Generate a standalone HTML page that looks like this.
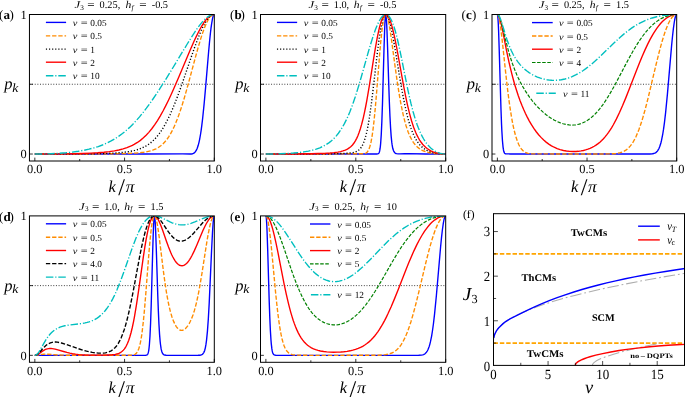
<!DOCTYPE html>
<html><head><meta charset="utf-8"><title>figure</title>
<style>html,body{margin:0;padding:0;background:#fff;overflow:hidden}svg{display:block;will-change:transform}text{font-family:"Liberation Serif",serif;fill:#000;text-rendering:geometricPrecision}</style></head><body>
<svg width="685" height="397" viewBox="0 0 685 397">
<rect width="685" height="397" fill="#fff"/>
<clipPath id="cpa"><rect x="29.45" y="14.5" width="184.85" height="146.50"/></clipPath>
<g clip-path="url(#cpa)" fill="none" stroke-width="1.38">
<path d="M29.45 84.26H214.3" stroke="#222" stroke-width="0.9" stroke-dasharray="0.95 1.7"/>
<path d="M34.83 154.02L145.80 154.01L182.59 153.88L190.07 154.00L191.27 153.94L192.46 153.74L193.36 153.42L194.26 152.88L194.86 152.35L195.46 151.65L196.35 150.23L197.25 148.24L198.15 145.57L199.05 142.09L199.64 139.28L200.54 134.25L201.14 130.32L201.74 125.93L202.63 118.48L204.13 103.90L205.63 87.16L208.62 51.70L209.51 41.95L210.41 33.23L211.01 28.16L211.61 23.79L212.51 18.70L213.10 16.38L213.40 15.56L213.70 14.97L214.00 14.62L214.30 14.50" stroke="#0000ff" stroke-width="1.38"/>
<path d="M34.83 154.02L79.40 153.99L104.53 153.88L122.77 153.60L128.75 153.41L135.04 153.09L139.52 152.74L143.71 152.25L147.30 151.64L150.59 150.85L153.28 149.97L155.97 148.82L158.37 147.49L160.76 145.81L162.85 144.01L164.95 141.82L167.04 139.22L168.84 136.62L170.63 133.64L172.42 130.28L174.22 126.52L176.01 122.34L177.81 117.75L179.90 111.89L182.00 105.53L184.09 98.70L187.98 85.03L195.16 58.25L197.85 48.50L200.54 39.38L202.04 34.72L203.23 31.24L204.73 27.25L206.22 23.73L207.72 20.71L208.92 18.69L209.81 17.43L210.41 16.71L211.61 15.56L212.21 15.14L213.10 14.71L213.70 14.55L214.30 14.50" stroke="#ff8c00" stroke-width="1.38" stroke-dasharray="4.33 1.87"/>
<path d="M34.83 154.02L71.33 153.95L95.25 153.69L104.23 153.48L110.21 153.25L116.49 152.90L121.58 152.50L126.06 152.00L130.55 151.31L134.74 150.42L138.33 149.39L141.62 148.18L144.61 146.78L146.10 145.96L147.60 145.04L150.29 143.13L152.68 141.10L154.78 139.06L157.17 136.37L159.26 133.70L161.36 130.70L163.45 127.37L165.55 123.69L167.64 119.68L170.03 114.68L172.42 109.25L174.82 103.44L177.51 96.48L179.60 90.80L182.30 83.22L191.57 56.09L194.56 47.57L198.15 37.97L199.64 34.25L201.14 30.76L202.93 26.91L204.73 23.47L206.52 20.53L208.02 18.48L208.92 17.44L209.81 16.55L210.71 15.82L211.31 15.42L212.21 14.95L212.80 14.73L213.70 14.54L214.30 14.50" stroke="#000000" stroke-width="1.38" stroke-dasharray="1.17 1.93"/>
<path d="M34.83 154.02L62.35 153.89L74.32 153.71L82.99 153.49L91.07 153.18L97.65 152.80L103.93 152.29L109.31 151.69L114.40 150.92L118.88 150.03L123.07 148.95L126.96 147.68L130.55 146.23L132.34 145.38L134.14 144.44L137.43 142.46L140.42 140.33L143.41 137.84L146.10 135.27L148.79 132.37L151.79 128.73L154.78 124.63L157.47 120.55L160.16 116.11L163.15 110.76L165.55 106.18L168.24 100.74L170.93 95.02L173.62 89.07L178.71 77.34L189.77 51.04L194.26 40.84L196.35 36.35L198.15 32.69L199.94 29.25L201.74 26.06L203.53 23.18L205.03 21.04L206.82 18.82L208.32 17.30L209.81 16.09L211.31 15.21L212.80 14.68L213.40 14.56L214.30 14.50" stroke="#ff0000" stroke-width="1.38"/>
<path d="M34.83 154.02L43.51 153.94L50.99 153.71L58.76 153.31L65.94 152.76L72.22 152.10L78.20 151.28L83.89 150.29L88.97 149.19L93.76 147.94L98.25 146.54L102.43 144.99L106.92 143.06L111.11 140.95L115.00 138.71L118.58 136.37L122.47 133.52L125.76 130.84L129.35 127.63L132.64 124.41L135.93 120.94L139.52 116.85L142.81 112.84L146.40 108.19L149.99 103.29L152.98 99.02L156.27 94.16L160.16 88.22L164.05 82.11L171.83 69.51L187.08 44.26L191.87 36.58L196.05 30.22L198.15 27.25L199.94 24.86L201.74 22.63L203.83 20.30L205.63 18.56L207.42 17.10L209.22 15.94L211.01 15.11L212.51 14.68L213.40 14.55L214.30 14.50" stroke="#00bfbf" stroke-width="1.38" stroke-dasharray="7.49 1.87 1.17 1.87"/>
</g>
<rect x="29.45" y="14.5" width="184.85" height="146.50" fill="none" stroke="#000" stroke-width="1.0"/>
<path d="M34.83 161.0v-3.4M124.57 161.0v-3.4M214.30 161.0v-3.4M79.70 161.0v-2.0M169.43 161.0v-2.0M29.45 154.02h3.4M29.45 84.26h3.4" stroke="#000" stroke-width="0.8" fill="none"/>
<text x="34.83" y="173.20" font-size="12.4" text-anchor="middle">0.0</text>
<text x="124.57" y="173.20" font-size="12.4" text-anchor="middle">0.5</text>
<text x="214.30" y="173.20" font-size="12.4" text-anchor="middle">1.0</text>
<text x="26.65" y="158.42" font-size="12.4" text-anchor="end">0</text>
<text x="26.65" y="18.90" font-size="12.4" text-anchor="end">1</text>
<text x="4.15" y="89.26" font-size="16.5" font-style="italic">p</text>
<text x="12.15" y="91.76" font-size="12.6" font-style="italic" textLength="6.0" lengthAdjust="spacingAndGlyphs">k</text>
<text x="108.47" y="192.00" font-size="16.5" font-style="italic" textLength="7.3" lengthAdjust="spacingAndGlyphs">k</text>
<text x="118.37" y="195.40" font-size="24">/</text>
<text x="125.67" y="192.00" font-size="16.5" font-style="italic" textLength="8.8" lengthAdjust="spacingAndGlyphs">π</text>
<text x="74.42" y="8.20" font-size="10.3" font-style="italic" textLength="5.6" lengthAdjust="spacingAndGlyphs">J</text>
<text x="80.22" y="9.90" font-size="7.21">3</text>
<text x="87.33" y="8.20" font-size="10.3" textLength="7.4" lengthAdjust="spacingAndGlyphs">=</text>
<text x="99.62" y="8.20" font-size="10.3">0.25,</text>
<text x="125.42" y="8.20" font-size="10.3" font-style="italic" textLength="5.8" lengthAdjust="spacingAndGlyphs">h</text>
<text x="131.43" y="9.90" font-size="7.21" font-style="italic">f</text>
<text x="139.22" y="8.20" font-size="10.3" textLength="7.4" lengthAdjust="spacingAndGlyphs">=</text>
<text x="151.72" y="8.20" font-size="10.3">-0.5</text>
<text x="-1.05" y="19.10" font-size="13.0">(</text>
<text x="3.45" y="19.10" font-size="13.0" font-weight="bold">a</text>
<text x="9.45" y="19.10" font-size="13.0">)</text>
<path d="M45.90 22.40H66.10" stroke="#0000ff" stroke-width="1.38" fill="none"/>
<text x="72.80" y="25.90" font-size="9.3" font-style="italic" textLength="4.6" lengthAdjust="spacingAndGlyphs">v</text>
<text x="80.70" y="25.90" font-size="9.3" textLength="6.9" lengthAdjust="spacingAndGlyphs">=</text>
<text x="90.30" y="25.90" font-size="9.3">0.05</text>
<path d="M45.90 35.90H66.10" stroke="#ff8c00" stroke-width="1.38" fill="none" stroke-dasharray="4.33 1.87"/>
<text x="72.80" y="39.40" font-size="9.3" font-style="italic" textLength="4.6" lengthAdjust="spacingAndGlyphs">v</text>
<text x="80.70" y="39.40" font-size="9.3" textLength="6.9" lengthAdjust="spacingAndGlyphs">=</text>
<text x="90.30" y="39.40" font-size="9.3">0.5</text>
<path d="M45.90 49.10H66.10" stroke="#000000" stroke-width="1.38" fill="none" stroke-dasharray="1.17 1.93"/>
<text x="72.80" y="52.60" font-size="9.3" font-style="italic" textLength="4.6" lengthAdjust="spacingAndGlyphs">v</text>
<text x="80.70" y="52.60" font-size="9.3" textLength="6.9" lengthAdjust="spacingAndGlyphs">=</text>
<text x="90.30" y="52.60" font-size="9.3">1</text>
<path d="M45.90 62.20H66.10" stroke="#ff0000" stroke-width="1.38" fill="none"/>
<text x="72.80" y="65.70" font-size="9.3" font-style="italic" textLength="4.6" lengthAdjust="spacingAndGlyphs">v</text>
<text x="80.70" y="65.70" font-size="9.3" textLength="6.9" lengthAdjust="spacingAndGlyphs">=</text>
<text x="90.30" y="65.70" font-size="9.3">2</text>
<path d="M45.90 75.70H66.10" stroke="#00bfbf" stroke-width="1.38" fill="none" stroke-dasharray="7.49 1.87 1.17 1.87"/>
<text x="72.80" y="79.20" font-size="9.3" font-style="italic" textLength="4.6" lengthAdjust="spacingAndGlyphs">v</text>
<text x="80.70" y="79.20" font-size="9.3" textLength="6.9" lengthAdjust="spacingAndGlyphs">=</text>
<text x="90.30" y="79.20" font-size="9.3">10</text>
<clipPath id="cpb"><rect x="260.5" y="14.5" width="185.20" height="146.50"/></clipPath>
<g clip-path="url(#cpb)" fill="none" stroke-width="1.38">
<path d="M260.5 84.26H445.7" stroke="#222" stroke-width="0.9" stroke-dasharray="0.95 1.7"/>
<path d="M265.89 154.02L375.28 154.02L376.77 153.98L377.67 153.89L378.27 153.69L378.57 153.48L378.87 153.14L379.17 152.58L379.47 151.72L379.77 150.48L380.07 148.73L380.37 146.36L380.67 143.24L381.27 134.33L381.87 121.28L382.47 103.98L383.97 50.21L384.57 31.44L384.87 24.22L385.17 18.87L385.47 15.60L385.76 14.50L386.06 15.58L386.36 18.71L386.66 23.71L386.96 30.29L387.56 46.93L388.76 84.87L389.36 102.00L389.96 116.36L390.56 127.66L391.16 136.10L391.76 142.13L392.06 144.40L392.66 147.80L392.96 149.04L393.56 150.84L393.86 151.48L394.46 152.40L394.76 152.73L395.35 153.19L395.95 153.49L396.55 153.67L398.05 153.87L399.85 153.88L404.64 153.71L407.94 153.68L425.92 153.96L445.70 154.02" stroke="#0000ff" stroke-width="1.38"/>
<path d="M265.89 154.02L324.93 153.98L355.50 153.77L362.09 153.79L363.89 153.68L364.79 153.50L365.39 153.30L365.99 153.01L366.59 152.61L367.48 151.70L368.38 150.32L368.98 149.05L369.88 146.52L370.48 144.33L371.08 141.68L371.68 138.54L372.28 134.86L372.88 130.63L374.08 120.46L375.28 108.15L376.47 94.10L379.77 52.77L380.67 42.67L381.57 33.80L382.17 28.70L382.77 24.34L383.67 19.28L384.27 16.91L384.57 16.03L384.87 15.36L385.17 14.88L385.47 14.59L385.76 14.50L386.06 14.59L386.36 14.86L386.66 15.31L386.96 15.92L387.56 17.60L388.46 21.18L389.66 27.54L390.56 33.22L391.46 39.44L395.35 68.41L397.45 83.14L399.55 96.29L401.35 106.12L403.15 114.62L404.04 118.38L405.24 122.94L406.14 126.01L407.34 129.70L408.24 132.17L409.44 135.11L410.64 137.69L412.14 140.45L413.33 142.33L414.83 144.33L416.33 146.01L418.13 147.65L419.93 148.98L421.73 150.04L423.82 151.02L426.22 151.87L428.62 152.51L431.32 153.04L434.31 153.46L437.91 153.78L441.80 153.97L445.70 154.02" stroke="#ff8c00" stroke-width="1.38" stroke-dasharray="4.33 1.87"/>
<path d="M265.89 154.02L301.56 153.98L322.83 153.86L336.62 153.64L345.91 153.28L349.50 153.01L351.60 152.76L353.40 152.45L355.20 151.98L356.70 151.39L357.89 150.73L359.09 149.84L360.29 148.62L361.49 147.00L362.39 145.44L363.29 143.54L364.19 141.23L365.09 138.47L365.99 135.21L366.89 131.40L367.78 127.01L368.68 122.03L369.58 116.44L371.38 103.59L373.18 88.91L377.37 52.49L378.87 40.81L380.07 32.67L380.97 27.44L381.57 24.41L382.47 20.60L383.07 18.57L383.67 16.95L384.27 15.74L384.87 14.94L385.17 14.70L385.47 14.55L385.76 14.50L386.06 14.55L386.36 14.69L386.96 15.25L387.56 16.17L388.16 17.43L388.76 19.00L389.36 20.87L389.96 23.00L390.86 26.67L392.06 32.29L393.56 40.24L395.35 50.71L399.25 74.53L401.05 85.14L402.85 95.09L404.64 104.18L406.74 113.53L407.64 117.11L408.84 121.50L409.74 124.50L410.94 128.14L411.84 130.60L413.04 133.57L414.23 136.20L415.73 139.05L416.93 141.03L418.43 143.16L419.93 144.98L421.43 146.51L423.22 148.05L425.02 149.31L426.82 150.33L428.92 151.30L431.02 152.06L433.71 152.80L436.41 153.32L439.11 153.68L442.10 153.93L445.70 154.02" stroke="#000000" stroke-width="1.38" stroke-dasharray="1.17 1.93"/>
<path d="M265.89 154.02L292.87 153.95L311.44 153.73L318.04 153.56L324.33 153.32L330.02 152.97L333.92 152.61L337.82 152.09L340.51 151.57L342.91 150.95L345.31 150.10L347.41 149.09L349.20 147.95L351.00 146.48L352.50 144.93L354.00 143.00L355.50 140.62L356.70 138.34L357.89 135.68L359.09 132.58L360.29 129.01L361.49 124.93L362.39 121.54L363.29 117.83L364.49 112.43L365.69 106.50L366.89 100.09L369.28 86.04L373.48 59.63L375.28 48.71L377.07 38.71L378.57 31.39L379.47 27.54L380.37 24.14L381.27 21.22L382.17 18.81L383.07 16.93L383.97 15.58L384.27 15.25L384.87 14.77L385.17 14.62L385.76 14.50L386.06 14.53L386.66 14.77L387.26 15.23L388.16 16.36L389.06 17.98L389.96 20.08L390.86 22.62L391.76 25.57L392.66 28.92L394.46 36.63L396.25 45.45L398.05 55.04L403.75 86.60L405.54 95.82L407.34 104.30L409.44 113.12L411.54 120.72L412.44 123.61L413.63 127.15L414.53 129.57L415.73 132.51L416.93 135.13L418.43 138.03L419.63 140.06L421.13 142.28L422.62 144.20L424.12 145.86L425.62 147.28L427.42 148.71L429.22 149.91L431.32 151.04L433.11 151.82L435.51 152.64L437.91 153.24L440.31 153.66L443.00 153.93L445.70 154.02" stroke="#ff0000" stroke-width="1.38"/>
<path d="M265.89 154.02L273.39 153.96L280.58 153.78L287.77 153.46L293.46 153.06L298.86 152.54L303.65 151.91L308.45 151.08L312.64 150.12L316.24 149.08L319.84 147.78L323.13 146.29L326.13 144.64L328.83 142.85L331.52 140.71L333.92 138.48L336.32 135.87L338.42 133.25L340.51 130.27L342.61 126.89L344.41 123.66L346.51 119.47L348.31 115.51L350.10 111.18L351.90 106.50L353.40 102.33L355.20 97.02L358.49 86.49L361.49 76.23L368.38 51.78L371.38 41.69L374.08 33.43L375.28 30.09L376.47 27.00L377.67 24.18L378.87 21.67L380.07 19.49L381.27 17.67L382.47 16.24L383.07 15.67L383.67 15.22L384.27 14.87L384.87 14.63L385.76 14.50L386.36 14.56L386.96 14.74L387.56 15.06L388.16 15.49L388.76 16.06L389.36 16.76L390.56 18.57L391.76 20.93L392.66 23.06L393.86 26.37L395.05 30.21L395.95 33.42L397.15 38.11L399.25 47.28L401.35 57.37L407.04 85.89L409.14 95.66L410.94 103.38L413.04 111.53L415.13 118.71L417.23 124.95L418.43 128.11L419.63 131.01L420.83 133.66L422.33 136.63L423.52 138.77L425.02 141.17L426.52 143.28L428.02 145.13L429.52 146.76L431.02 148.18L432.51 149.41L434.31 150.66L436.11 151.68L437.91 152.50L439.71 153.13L441.80 153.65L443.60 153.92L445.70 154.02" stroke="#00bfbf" stroke-width="1.38" stroke-dasharray="7.49 1.87 1.17 1.87"/>
</g>
<rect x="260.5" y="14.5" width="185.20" height="146.50" fill="none" stroke="#000" stroke-width="1.0"/>
<path d="M265.89 161.0v-3.4M355.80 161.0v-3.4M445.70 161.0v-3.4M310.85 161.0v-2.0M400.75 161.0v-2.0M260.5 154.02h3.4M260.5 84.26h3.4" stroke="#000" stroke-width="0.8" fill="none"/>
<text x="265.89" y="173.20" font-size="12.4" text-anchor="middle">0.0</text>
<text x="355.80" y="173.20" font-size="12.4" text-anchor="middle">0.5</text>
<text x="445.70" y="173.20" font-size="12.4" text-anchor="middle">1.0</text>
<text x="257.70" y="158.42" font-size="12.4" text-anchor="end">0</text>
<text x="257.70" y="18.90" font-size="12.4" text-anchor="end">1</text>
<text x="235.20" y="89.26" font-size="16.5" font-style="italic">p</text>
<text x="243.20" y="91.76" font-size="12.6" font-style="italic" textLength="6.0" lengthAdjust="spacingAndGlyphs">k</text>
<text x="339.70" y="192.00" font-size="16.5" font-style="italic" textLength="7.3" lengthAdjust="spacingAndGlyphs">k</text>
<text x="349.60" y="195.40" font-size="24">/</text>
<text x="356.90" y="192.00" font-size="16.5" font-style="italic" textLength="8.8" lengthAdjust="spacingAndGlyphs">π</text>
<text x="308.55" y="8.20" font-size="10.3" font-style="italic" textLength="5.6" lengthAdjust="spacingAndGlyphs">J</text>
<text x="314.35" y="9.90" font-size="7.21">3</text>
<text x="321.45" y="8.20" font-size="10.3" textLength="7.4" lengthAdjust="spacingAndGlyphs">=</text>
<text x="333.75" y="8.20" font-size="10.3">1.0,</text>
<text x="353.75" y="8.20" font-size="10.3" font-style="italic" textLength="5.8" lengthAdjust="spacingAndGlyphs">h</text>
<text x="359.75" y="9.90" font-size="7.21" font-style="italic">f</text>
<text x="367.55" y="8.20" font-size="10.3" textLength="7.4" lengthAdjust="spacingAndGlyphs">=</text>
<text x="380.05" y="8.20" font-size="10.3">-0.5</text>
<text x="230.00" y="19.10" font-size="13.0">(</text>
<text x="234.50" y="19.10" font-size="13.0" font-weight="bold">b</text>
<text x="240.50" y="19.10" font-size="13.0">)</text>
<path d="M276.95 22.40H297.15" stroke="#0000ff" stroke-width="1.38" fill="none"/>
<text x="303.85" y="25.90" font-size="9.3" font-style="italic" textLength="4.6" lengthAdjust="spacingAndGlyphs">v</text>
<text x="311.75" y="25.90" font-size="9.3" textLength="6.9" lengthAdjust="spacingAndGlyphs">=</text>
<text x="321.35" y="25.90" font-size="9.3">0.05</text>
<path d="M276.95 35.90H297.15" stroke="#ff8c00" stroke-width="1.38" fill="none" stroke-dasharray="4.33 1.87"/>
<text x="303.85" y="39.40" font-size="9.3" font-style="italic" textLength="4.6" lengthAdjust="spacingAndGlyphs">v</text>
<text x="311.75" y="39.40" font-size="9.3" textLength="6.9" lengthAdjust="spacingAndGlyphs">=</text>
<text x="321.35" y="39.40" font-size="9.3">0.5</text>
<path d="M276.95 49.10H297.15" stroke="#000000" stroke-width="1.38" fill="none" stroke-dasharray="1.17 1.93"/>
<text x="303.85" y="52.60" font-size="9.3" font-style="italic" textLength="4.6" lengthAdjust="spacingAndGlyphs">v</text>
<text x="311.75" y="52.60" font-size="9.3" textLength="6.9" lengthAdjust="spacingAndGlyphs">=</text>
<text x="321.35" y="52.60" font-size="9.3">1</text>
<path d="M276.95 62.20H297.15" stroke="#ff0000" stroke-width="1.38" fill="none"/>
<text x="303.85" y="65.70" font-size="9.3" font-style="italic" textLength="4.6" lengthAdjust="spacingAndGlyphs">v</text>
<text x="311.75" y="65.70" font-size="9.3" textLength="6.9" lengthAdjust="spacingAndGlyphs">=</text>
<text x="321.35" y="65.70" font-size="9.3">2</text>
<path d="M276.95 75.70H297.15" stroke="#00bfbf" stroke-width="1.38" fill="none" stroke-dasharray="7.49 1.87 1.17 1.87"/>
<text x="303.85" y="79.20" font-size="9.3" font-style="italic" textLength="4.6" lengthAdjust="spacingAndGlyphs">v</text>
<text x="311.75" y="79.20" font-size="9.3" textLength="6.9" lengthAdjust="spacingAndGlyphs">=</text>
<text x="321.35" y="79.20" font-size="9.3">10</text>
<clipPath id="cpc"><rect x="492.0" y="14.5" width="184.70" height="146.50"/></clipPath>
<g clip-path="url(#cpc)" fill="none" stroke-width="1.38">
<path d="M492.0 84.26H676.7" stroke="#222" stroke-width="0.9" stroke-dasharray="0.95 1.7"/>
<path d="M497.38 14.50L497.68 15.56L497.98 18.70L498.28 23.78L498.58 30.58L499.17 48.21L500.97 108.98L501.56 124.63L501.86 130.97L502.46 140.74L503.06 147.07L503.36 149.18L503.66 150.75L503.95 151.87L504.25 152.64L504.55 153.15L504.85 153.47L505.45 153.75L506.05 153.82L510.53 153.95L517.40 154.00L644.12 154.02L649.80 153.97L652.49 153.77L653.69 153.53L654.58 153.23L655.48 152.79L656.08 152.39L656.97 151.58L657.57 150.86L658.47 149.46L659.07 148.26L659.66 146.81L660.26 145.08L660.86 143.04L661.46 140.66L662.65 134.74L663.55 129.19L664.45 122.64L665.64 112.35L667.44 93.92L671.62 45.38L672.52 36.24L673.41 28.34L674.31 21.99L674.91 18.76L675.21 17.47L675.80 15.58L676.10 14.98L676.40 14.62L676.70 14.50" stroke="#0000ff" stroke-width="1.38"/>
<path d="M497.38 14.50L497.68 14.62L497.98 14.97L498.28 15.56L498.87 17.41L499.77 21.73L500.67 27.62L502.16 39.89L505.75 73.44L507.54 89.09L508.74 98.55L509.63 105.07L511.43 116.56L512.32 121.56L513.22 126.06L514.12 130.09L515.31 134.79L516.21 137.83L517.40 141.31L518.60 144.19L519.79 146.53L520.69 147.98L521.89 149.56L522.78 150.51L523.98 151.51L525.17 152.27L526.67 152.93L528.16 153.36L529.66 153.62L531.75 153.81L534.44 153.88L578.67 154.01L600.19 154.00L607.96 153.93L613.64 153.69L616.03 153.46L618.12 153.14L620.21 152.66L622.31 151.97L624.10 151.16L625.89 150.09L627.39 148.95L628.88 147.57L630.38 145.90L631.87 143.92L633.36 141.58L634.86 138.88L636.05 136.43L637.55 133.00L639.04 129.17L640.24 125.81L641.43 122.19L642.93 117.33L645.32 108.82L648.01 98.35L656.08 64.51L659.07 52.48L660.56 46.84L662.06 41.52L663.55 36.57L665.04 32.03L666.54 27.95L668.03 24.37L669.53 21.30L671.02 18.79L671.92 17.55L672.52 16.84L673.41 15.95L674.01 15.47L674.61 15.09L675.50 14.69L676.10 14.55L676.70 14.50" stroke="#ff8c00" stroke-width="1.38" stroke-dasharray="4.33 1.87"/>
<path d="M497.38 14.50L497.68 14.56L497.98 14.76L498.28 15.07L498.87 16.08L499.77 18.42L500.67 21.60L502.16 28.22L506.64 51.01L509.04 62.27L510.53 68.71L512.02 74.70L513.52 80.27L515.01 85.45L516.51 90.29L518.30 95.67L520.09 100.64L521.89 105.24L523.68 109.50L525.47 113.45L527.27 117.11L529.36 121.04L531.45 124.64L533.84 128.38L536.23 131.73L538.62 134.72L541.01 137.39L543.70 140.04L546.10 142.09L548.78 144.10L551.47 145.82L554.16 147.25L557.15 148.57L560.14 149.62L563.43 150.49L566.42 151.04L569.71 151.42L573.29 151.56L575.98 151.50L578.37 151.31L581.06 150.94L583.45 150.48L585.55 149.95L587.94 149.18L590.03 148.37L592.12 147.40L594.21 146.27L596.01 145.14L598.10 143.63L599.89 142.17L601.68 140.52L603.48 138.68L605.27 136.64L607.06 134.38L608.56 132.34L610.05 130.14L611.55 127.78L613.34 124.73L616.33 119.16L619.62 112.33L622.60 105.57L625.89 97.63L628.88 90.08L637.25 68.49L639.94 61.78L642.33 56.03L645.02 49.89L647.71 44.16L650.10 39.44L652.49 35.11L653.99 32.61L655.48 30.27L656.97 28.10L658.47 26.09L659.96 24.24L661.46 22.56L662.95 21.04L664.45 19.68L665.94 18.49L667.44 17.45L668.93 16.57L670.42 15.85L671.92 15.28L673.41 14.87L674.91 14.61L676.70 14.50" stroke="#ff0000" stroke-width="1.38"/>
<path d="M497.38 14.50L497.68 14.55L497.98 14.71L498.28 14.98L498.87 15.81L499.77 17.76L500.67 20.39L502.16 25.84L506.05 41.81L508.44 50.87L509.63 54.99L511.13 59.77L512.32 63.31L513.82 67.42L515.31 71.22L516.81 74.74L518.30 78.01L520.09 81.66L521.59 84.49L523.38 87.68L525.17 90.65L527.27 93.87L529.66 97.28L532.35 100.81L535.04 104.04L537.73 107.00L540.42 109.70L543.11 112.17L545.80 114.42L548.78 116.66L551.47 118.45L554.46 120.19L557.45 121.69L560.44 122.92L563.13 123.79L566.12 124.51L569.11 124.95L571.80 125.09L573.89 125.01L575.68 124.83L577.48 124.52L579.27 124.09L581.06 123.53L582.86 122.82L584.65 121.98L586.14 121.16L587.94 120.05L589.73 118.79L591.22 117.61L593.02 116.06L594.81 114.34L596.30 112.79L598.10 110.77L599.89 108.59L602.58 105.03L605.27 101.13L607.96 96.92L610.95 91.91L613.34 87.69L616.33 82.22L625.59 64.61L629.48 57.38L632.77 51.52L636.05 45.98L639.64 40.40L642.93 35.74L646.22 31.57L647.71 29.83L649.50 27.88L652.49 24.95L653.99 23.63L655.78 22.18L657.57 20.87L659.07 19.88L660.86 18.81L662.65 17.87L664.15 17.17L665.94 16.45L667.73 15.85L669.53 15.36L671.32 14.98L673.11 14.71L674.91 14.55L676.70 14.50" stroke="#008000" stroke-width="1.2" stroke-dasharray="3.55 1.54"/>
<path d="M497.38 14.50L497.68 14.54L497.98 14.68L498.28 14.90L498.87 15.60L499.47 16.61L500.37 18.63L501.86 22.96L505.15 33.87L506.94 39.47L509.04 45.26L511.13 50.23L513.22 54.47L515.31 58.09L516.51 59.93L517.70 61.62L520.09 64.62L521.89 66.58L523.68 68.33L525.47 69.91L527.27 71.32L529.06 72.60L531.15 73.93L533.24 75.10L535.34 76.14L537.43 77.05L539.82 77.94L542.21 78.68L544.60 79.29L546.99 79.75L549.38 80.08L551.77 80.28L554.16 80.34L557.75 80.20L561.34 79.77L564.92 79.03L568.51 77.98L572.10 76.62L575.68 74.96L579.27 73.00L582.86 70.74L585.84 68.64L588.83 66.36L591.82 63.92L595.11 61.06L601.09 55.51L612.14 44.75L616.03 41.04L620.21 37.22L623.80 34.13L627.69 31.01L631.57 28.16L635.46 25.61L639.34 23.36L643.53 21.26L647.71 19.50L652.19 17.96L656.68 16.74L661.46 15.76L664.15 15.35L666.84 15.02L671.62 14.64L676.70 14.50" stroke="#00bfbf" stroke-width="1.38" stroke-dasharray="7.49 1.87 1.17 1.87"/>
</g>
<rect x="492.0" y="14.5" width="184.70" height="146.50" fill="none" stroke="#000" stroke-width="1.0"/>
<path d="M497.38 161.0v-3.4M587.04 161.0v-3.4M676.70 161.0v-3.4M542.21 161.0v-2.0M631.87 161.0v-2.0M492.0 154.02h3.4M492.0 84.26h3.4" stroke="#000" stroke-width="0.8" fill="none"/>
<text x="497.38" y="173.20" font-size="12.4" text-anchor="middle">0.0</text>
<text x="587.04" y="173.20" font-size="12.4" text-anchor="middle">0.5</text>
<text x="676.70" y="173.20" font-size="12.4" text-anchor="middle">1.0</text>
<text x="489.20" y="158.42" font-size="12.4" text-anchor="end">0</text>
<text x="489.20" y="18.90" font-size="12.4" text-anchor="end">1</text>
<text x="466.70" y="89.26" font-size="16.5" font-style="italic">p</text>
<text x="474.70" y="91.76" font-size="12.6" font-style="italic" textLength="6.0" lengthAdjust="spacingAndGlyphs">k</text>
<text x="570.94" y="192.00" font-size="16.5" font-style="italic" textLength="7.3" lengthAdjust="spacingAndGlyphs">k</text>
<text x="580.84" y="195.40" font-size="24">/</text>
<text x="588.14" y="192.00" font-size="16.5" font-style="italic" textLength="8.8" lengthAdjust="spacingAndGlyphs">π</text>
<text x="538.70" y="8.20" font-size="10.3" font-style="italic" textLength="5.6" lengthAdjust="spacingAndGlyphs">J</text>
<text x="544.50" y="9.90" font-size="7.21">3</text>
<text x="551.60" y="8.20" font-size="10.3" textLength="7.4" lengthAdjust="spacingAndGlyphs">=</text>
<text x="563.90" y="8.20" font-size="10.3">0.25,</text>
<text x="589.70" y="8.20" font-size="10.3" font-style="italic" textLength="5.8" lengthAdjust="spacingAndGlyphs">h</text>
<text x="595.70" y="9.90" font-size="7.21" font-style="italic">f</text>
<text x="603.50" y="8.20" font-size="10.3" textLength="7.4" lengthAdjust="spacingAndGlyphs">=</text>
<text x="616.00" y="8.20" font-size="10.3">1.5</text>
<text x="461.50" y="19.10" font-size="13.0">(</text>
<text x="466.00" y="19.10" font-size="13.0" font-weight="bold">c</text>
<text x="472.00" y="19.10" font-size="13.0">)</text>
<path d="M532.00 22.60H552.70" stroke="#0000ff" stroke-width="1.38" fill="none"/>
<text x="558.90" y="26.10" font-size="9.3" font-style="italic" textLength="4.6" lengthAdjust="spacingAndGlyphs">v</text>
<text x="566.80" y="26.10" font-size="9.3" textLength="6.9" lengthAdjust="spacingAndGlyphs">=</text>
<text x="576.40" y="26.10" font-size="9.3">0.05</text>
<path d="M532.00 36.00H552.70" stroke="#ff8c00" stroke-width="1.38" fill="none" stroke-dasharray="4.33 1.87"/>
<text x="558.90" y="39.50" font-size="9.3" font-style="italic" textLength="4.6" lengthAdjust="spacingAndGlyphs">v</text>
<text x="566.80" y="39.50" font-size="9.3" textLength="6.9" lengthAdjust="spacingAndGlyphs">=</text>
<text x="576.40" y="39.50" font-size="9.3">0.5</text>
<path d="M532.00 49.20H552.70" stroke="#ff0000" stroke-width="1.38" fill="none"/>
<text x="558.90" y="52.70" font-size="9.3" font-style="italic" textLength="4.6" lengthAdjust="spacingAndGlyphs">v</text>
<text x="566.80" y="52.70" font-size="9.3" textLength="6.9" lengthAdjust="spacingAndGlyphs">=</text>
<text x="576.40" y="52.70" font-size="9.3">2</text>
<path d="M532.00 62.50H552.70" stroke="#008000" stroke-width="1.2" fill="none" stroke-dasharray="3.55 1.54"/>
<text x="558.90" y="66.00" font-size="9.3" font-style="italic" textLength="4.6" lengthAdjust="spacingAndGlyphs">v</text>
<text x="566.80" y="66.00" font-size="9.3" textLength="6.9" lengthAdjust="spacingAndGlyphs">=</text>
<text x="576.40" y="66.00" font-size="9.3">4</text>
<path d="M536.30 93.30H555.80" stroke="#00bfbf" stroke-width="1.38" fill="none" stroke-dasharray="7.49 1.87 1.17 1.87"/>
<text x="563.00" y="96.80" font-size="9.3" font-style="italic" textLength="4.6" lengthAdjust="spacingAndGlyphs">v</text>
<text x="570.90" y="96.80" font-size="9.3" textLength="6.9" lengthAdjust="spacingAndGlyphs">=</text>
<text x="580.50" y="96.80" font-size="9.3">11</text>
<clipPath id="cpd"><rect x="29.45" y="215.9" width="184.85" height="146.40"/></clipPath>
<g clip-path="url(#cpd)" fill="none" stroke-width="1.38">
<path d="M29.45 285.61H214.3" stroke="#222" stroke-width="0.9" stroke-dasharray="0.95 1.7"/>
<path d="M34.83 355.33L144.61 355.33L145.80 355.29L146.40 355.20L147.00 354.95L147.30 354.70L147.60 354.32L147.90 353.74L148.20 352.90L148.50 351.70L148.79 350.03L149.09 347.75L149.39 344.75L149.99 336.02L150.59 323.03L151.19 305.57L152.68 251.43L153.28 232.71L153.58 225.54L153.88 220.23L154.18 216.99L154.48 215.90L154.78 216.97L155.08 220.08L155.38 225.05L155.67 231.61L156.27 248.23L157.77 295.36L158.37 311.38L158.96 324.39L159.56 334.33L160.16 341.53L160.46 344.28L161.06 348.39L161.36 349.88L161.96 352.02L162.55 353.36L162.85 353.83L163.45 354.46L164.05 354.83L164.65 355.05L166.14 355.26L169.73 355.33L198.15 355.30L199.64 355.21L200.84 355.02L201.74 354.71L202.34 354.36L202.93 353.82L203.23 353.46L203.83 352.50L204.13 351.87L204.73 350.21L205.33 347.86L205.92 344.63L206.52 340.31L207.42 331.36L208.32 318.94L209.22 302.88L211.61 249.70L212.51 232.13L213.10 223.37L213.40 220.15L213.70 217.81L214.00 216.38L214.30 215.90" stroke="#0000ff" stroke-width="1.38"/>
<path d="M34.83 355.33L36.93 355.18L42.01 354.36L43.51 354.22L45.00 354.17L47.99 354.27L57.57 354.95L62.05 355.12L66.84 355.21L88.67 355.31L129.35 355.29L132.04 355.15L132.94 355.02L133.84 354.80L134.74 354.45L135.33 354.11L135.93 353.65L136.53 353.04L137.43 351.77L138.03 350.62L138.92 348.32L139.52 346.31L140.42 342.48L141.02 339.30L141.62 335.57L142.21 331.27L143.41 320.87L144.61 308.20L145.80 293.68L148.79 254.73L149.69 244.13L150.59 234.83L151.19 229.52L151.79 225.03L152.68 219.93L152.98 218.69L153.58 216.89L153.88 216.34L154.18 216.01L154.48 215.90L154.78 216.01L155.08 216.32L155.38 216.84L155.97 218.45L156.57 220.77L157.47 225.39L158.37 231.13L159.26 237.68L163.45 271.52L164.65 280.43L165.55 286.61L166.74 294.08L167.94 300.67L169.13 306.39L170.33 311.32L171.83 316.48L172.72 319.10L173.62 321.39L174.52 323.39L175.42 325.12L176.31 326.58L177.21 327.79L178.11 328.76L179.00 329.50L179.90 330.01L180.80 330.31L181.70 330.39L182.59 330.26L183.49 329.93L184.69 329.20L185.29 328.71L186.18 327.83L187.68 325.96L189.17 323.59L190.37 321.30L191.87 317.89L193.06 314.66L194.26 310.94L195.46 306.67L196.35 303.08L197.55 297.77L198.75 291.85L199.94 285.34L202.04 272.78L206.82 242.09L208.02 235.13L209.22 228.93L210.11 224.92L210.71 222.61L211.31 220.60L211.91 218.94L212.51 217.62L213.10 216.67L213.70 216.09L214.00 215.95L214.30 215.90" stroke="#ff8c00" stroke-width="1.38" stroke-dasharray="4.33 1.87"/>
<path d="M34.83 355.33L35.43 355.29L36.33 355.08L36.93 354.86L37.83 354.41L39.02 353.64L42.91 350.84L43.81 350.29L45.00 349.67L46.20 349.18L47.40 348.83L48.59 348.61L49.79 348.51L50.99 348.51L52.18 348.61L53.68 348.82L55.17 349.13L57.87 349.83L63.55 351.52L66.84 352.43L69.83 353.15L72.52 353.70L75.51 354.18L78.80 354.58L81.79 354.84L85.08 355.03L90.77 355.18L98.54 355.18L106.92 355.02L112.00 354.74L115.29 354.32L117.69 353.73L118.88 353.30L119.78 352.89L120.68 352.38L121.58 351.77L122.47 351.03L123.37 350.14L124.27 349.07L124.87 348.26L125.76 346.85L126.36 345.77L127.56 343.26L128.75 340.21L129.95 336.56L131.15 332.25L132.34 327.26L133.54 321.57L134.44 316.84L136.53 304.40L138.63 290.35L143.41 256.42L144.91 246.67L146.10 239.59L147.60 231.86L148.50 227.90L149.09 225.57L149.99 222.54L150.59 220.85L151.19 219.41L152.09 217.72L152.68 216.91L153.28 216.34L153.88 216.01L154.18 215.93L154.78 215.93L155.38 216.13L156.27 216.81L156.87 217.49L157.77 218.80L158.37 219.85L159.26 221.67L160.76 225.21L162.55 230.04L166.44 241.25L168.54 247.03L170.63 252.26L171.83 254.93L172.72 256.76L173.92 258.95L175.12 260.86L176.31 262.46L177.51 263.76L178.41 264.52L179.60 265.26L180.80 265.68L182.00 265.79L182.89 265.68L183.79 265.38L184.69 264.92L185.88 264.05L186.78 263.21L187.68 262.21L188.58 261.07L189.77 259.33L190.67 257.86L191.87 255.72L194.26 250.88L196.65 245.46L201.14 234.72L202.93 230.57L204.73 226.70L206.52 223.26L207.72 221.27L208.62 219.95L209.51 218.80L210.41 217.83L211.31 217.05L212.51 216.32L213.40 216.00L214.30 215.90" stroke="#ff0000" stroke-width="1.38"/>
<path d="M34.83 355.33L35.73 355.20L36.33 354.98L37.23 354.45L38.12 353.73L39.62 352.22L42.61 348.76L44.11 347.14L45.60 345.73L47.10 344.55L48.59 343.62L50.39 342.82L52.18 342.31L53.98 342.07L55.47 342.03L57.27 342.16L59.36 342.49L61.45 342.97L65.64 344.23L77.61 348.45L83.29 350.23L86.58 351.11L89.27 351.74L92.26 352.33L94.96 352.75L98.25 353.08L100.64 353.17L103.03 353.10L105.42 352.81L107.52 352.33L109.31 351.70L111.11 350.81L112.90 349.61L114.70 348.03L115.59 347.07L116.49 345.98L117.39 344.75L118.29 343.37L119.78 340.70L121.28 337.53L122.77 333.82L124.27 329.51L125.46 325.61L126.66 321.31L128.16 315.37L129.35 310.19L130.85 303.21L133.54 289.52L139.82 255.72L141.62 246.84L143.41 238.80L144.61 234.02L145.50 230.78L146.40 227.84L147.30 225.23L148.20 222.95L149.09 221.00L149.99 219.38L150.89 218.08L151.79 217.10L152.38 216.62L152.98 216.26L153.88 215.96L154.78 215.91L155.67 216.11L156.57 216.53L157.47 217.14L158.96 218.53L160.76 220.67L162.55 223.16L166.74 229.42L168.84 232.39L170.93 235.05L172.72 237.00L173.92 238.11L175.12 239.05L176.01 239.65L177.21 240.28L178.41 240.75L179.30 240.98L180.20 241.11L181.40 241.13L182.30 241.04L183.19 240.85L184.39 240.47L185.29 240.08L186.48 239.44L187.38 238.87L188.58 238.00L189.77 237.01L191.57 235.34L193.66 233.17L200.54 225.23L202.93 222.60L205.03 220.52L207.12 218.76L208.92 217.54L210.71 216.64L211.61 216.32L212.51 216.09L213.40 215.95L214.30 215.90" stroke="#000000" stroke-width="1.38" stroke-dasharray="4.33 1.87"/>
<path d="M34.83 355.33L35.13 355.31L35.73 355.15L36.63 354.62L37.53 353.77L38.42 352.65L39.32 351.31L40.22 349.82L43.81 343.35L45.30 340.79L47.10 338.01L48.89 335.59L50.39 333.84L52.18 332.04L53.98 330.55L55.77 329.31L57.87 328.14L59.96 327.22L62.35 326.41L64.75 325.79L66.84 325.38L69.23 325.02L78.80 323.95L82.69 323.41L85.08 322.95L87.18 322.45L88.97 321.94L90.77 321.32L92.86 320.45L94.66 319.56L96.75 318.33L98.54 317.09L100.34 315.65L101.83 314.29L103.33 312.76L105.12 310.70L106.62 308.78L108.12 306.67L109.61 304.36L111.11 301.84L112.60 299.09L114.10 296.13L115.59 292.95L117.09 289.56L119.78 282.96L122.47 275.81L125.17 268.25L130.85 251.87L133.54 244.43L136.23 237.54L138.63 232.07L139.82 229.60L141.02 227.32L142.21 225.26L143.41 223.40L144.61 221.76L145.50 220.67L146.70 219.40L147.90 218.35L148.79 217.69L149.99 216.98L150.89 216.58L152.09 216.19L152.98 216.01L154.18 215.90L155.38 215.94L156.57 216.09L158.67 216.62L160.76 217.39L163.15 218.48L170.03 221.87L172.13 222.78L174.22 223.54L176.31 224.15L178.71 224.63L180.80 224.85L182.89 224.88L184.69 224.76L186.78 224.46L188.88 223.99L190.97 223.38L194.86 221.95L203.23 218.38L205.33 217.60L207.42 216.93L209.22 216.48L211.01 216.14L212.80 215.95L214.30 215.90" stroke="#00bfbf" stroke-width="1.38" stroke-dasharray="7.49 1.87 1.17 1.87"/>
</g>
<rect x="29.45" y="215.9" width="184.85" height="146.40" fill="none" stroke="#000" stroke-width="1.0"/>
<path d="M34.83 362.3v-3.4M124.57 362.3v-3.4M214.30 362.3v-3.4M79.70 362.3v-2.0M169.43 362.3v-2.0M29.45 355.33h3.4M29.45 285.61h3.4" stroke="#000" stroke-width="0.8" fill="none"/>
<text x="34.83" y="374.50" font-size="12.4" text-anchor="middle">0.0</text>
<text x="124.57" y="374.50" font-size="12.4" text-anchor="middle">0.5</text>
<text x="214.30" y="374.50" font-size="12.4" text-anchor="middle">1.0</text>
<text x="26.65" y="359.73" font-size="12.4" text-anchor="end">0</text>
<text x="26.65" y="220.30" font-size="12.4" text-anchor="end">1</text>
<text x="4.15" y="290.61" font-size="16.5" font-style="italic">p</text>
<text x="12.15" y="293.11" font-size="12.6" font-style="italic" textLength="6.0" lengthAdjust="spacingAndGlyphs">k</text>
<text x="108.47" y="393.30" font-size="16.5" font-style="italic" textLength="7.3" lengthAdjust="spacingAndGlyphs">k</text>
<text x="118.37" y="396.70" font-size="24">/</text>
<text x="125.67" y="393.30" font-size="16.5" font-style="italic" textLength="8.8" lengthAdjust="spacingAndGlyphs">π</text>
<text x="79.12" y="209.60" font-size="10.3" font-style="italic" textLength="5.6" lengthAdjust="spacingAndGlyphs">J</text>
<text x="84.92" y="211.30" font-size="7.21">3</text>
<text x="92.03" y="209.60" font-size="10.3" textLength="7.4" lengthAdjust="spacingAndGlyphs">=</text>
<text x="104.33" y="209.60" font-size="10.3">1.0,</text>
<text x="124.33" y="209.60" font-size="10.3" font-style="italic" textLength="5.8" lengthAdjust="spacingAndGlyphs">h</text>
<text x="130.32" y="211.30" font-size="7.21" font-style="italic">f</text>
<text x="138.12" y="209.60" font-size="10.3" textLength="7.4" lengthAdjust="spacingAndGlyphs">=</text>
<text x="150.62" y="209.60" font-size="10.3">1.5</text>
<text x="-1.05" y="220.50" font-size="13.0">(</text>
<text x="3.45" y="220.50" font-size="13.0" font-weight="bold">d</text>
<text x="9.45" y="220.50" font-size="13.0">)</text>
<path d="M45.90 223.80H66.10" stroke="#0000ff" stroke-width="1.38" fill="none"/>
<text x="72.80" y="227.30" font-size="9.3" font-style="italic" textLength="4.6" lengthAdjust="spacingAndGlyphs">v</text>
<text x="80.70" y="227.30" font-size="9.3" textLength="6.9" lengthAdjust="spacingAndGlyphs">=</text>
<text x="90.30" y="227.30" font-size="9.3">0.05</text>
<path d="M45.90 237.30H66.10" stroke="#ff8c00" stroke-width="1.38" fill="none" stroke-dasharray="4.33 1.87"/>
<text x="72.80" y="240.80" font-size="9.3" font-style="italic" textLength="4.6" lengthAdjust="spacingAndGlyphs">v</text>
<text x="80.70" y="240.80" font-size="9.3" textLength="6.9" lengthAdjust="spacingAndGlyphs">=</text>
<text x="90.30" y="240.80" font-size="9.3">0.5</text>
<path d="M45.90 250.50H66.10" stroke="#ff0000" stroke-width="1.38" fill="none"/>
<text x="72.80" y="254.00" font-size="9.3" font-style="italic" textLength="4.6" lengthAdjust="spacingAndGlyphs">v</text>
<text x="80.70" y="254.00" font-size="9.3" textLength="6.9" lengthAdjust="spacingAndGlyphs">=</text>
<text x="90.30" y="254.00" font-size="9.3">2</text>
<path d="M45.90 263.60H66.10" stroke="#000000" stroke-width="1.38" fill="none" stroke-dasharray="4.33 1.87"/>
<text x="72.80" y="267.10" font-size="9.3" font-style="italic" textLength="4.6" lengthAdjust="spacingAndGlyphs">v</text>
<text x="80.70" y="267.10" font-size="9.3" textLength="6.9" lengthAdjust="spacingAndGlyphs">=</text>
<text x="90.30" y="267.10" font-size="9.3">4.0</text>
<path d="M45.90 277.10H66.10" stroke="#00bfbf" stroke-width="1.38" fill="none" stroke-dasharray="7.49 1.87 1.17 1.87"/>
<text x="72.80" y="280.60" font-size="9.3" font-style="italic" textLength="4.6" lengthAdjust="spacingAndGlyphs">v</text>
<text x="80.70" y="280.60" font-size="9.3" textLength="6.9" lengthAdjust="spacingAndGlyphs">=</text>
<text x="90.30" y="280.60" font-size="9.3">11</text>
<clipPath id="cpe"><rect x="260.5" y="215.9" width="185.20" height="146.40"/></clipPath>
<g clip-path="url(#cpe)" fill="none" stroke-width="1.38">
<path d="M260.5 285.61H445.7" stroke="#222" stroke-width="0.9" stroke-dasharray="0.95 1.7"/>
<path d="M265.89 215.90L266.19 216.98L266.49 220.16L266.79 225.30L267.09 232.16L267.69 249.83L269.19 300.64L269.79 317.56L270.39 330.78L270.99 340.31L271.29 343.85L271.89 348.91L272.19 350.63L272.49 351.95L272.79 352.93L273.09 353.65L273.39 354.17L273.69 354.54L274.29 354.98L274.88 355.18L275.78 355.29L276.98 355.32L413.04 355.33L418.73 355.28L421.43 355.07L422.62 354.83L423.52 354.54L424.42 354.10L425.02 353.70L425.92 352.88L426.52 352.17L427.42 350.76L428.02 349.56L428.62 348.12L429.22 346.39L429.82 344.35L430.42 341.97L431.62 336.05L432.51 330.51L433.41 323.97L434.61 313.69L436.41 295.27L440.61 246.77L441.50 237.63L442.40 229.73L443.30 223.39L443.90 220.16L444.20 218.87L444.50 217.81L444.80 216.98L445.10 216.38L445.40 216.02L445.70 215.90" stroke="#0000ff" stroke-width="1.38"/>
<path d="M265.89 215.90L266.19 216.01L266.49 216.33L266.79 216.87L267.39 218.58L267.69 219.74L268.29 222.64L269.19 228.36L270.09 235.49L270.99 243.75L272.19 256.00L275.48 291.35L276.68 303.05L277.88 313.52L279.08 322.58L279.98 328.41L280.58 331.85L281.18 334.94L282.08 338.97L282.68 341.28L283.58 344.24L284.17 345.90L285.07 348.00L285.97 349.68L286.87 351.00L287.77 352.04L288.67 352.84L289.87 353.64L291.07 354.19L292.27 354.57L293.46 354.82L294.96 355.03L296.76 355.17L301.56 355.30L313.24 355.33L371.68 355.30L378.27 355.20L382.77 354.97L385.47 354.68L387.86 354.25L389.96 353.69L391.76 353.02L393.56 352.13L395.05 351.17L396.55 350.00L398.05 348.57L399.85 346.46L401.35 344.35L402.85 341.88L404.64 338.41L406.14 335.08L407.94 330.55L409.44 326.32L410.94 321.70L413.63 312.45L416.33 302.19L419.03 291.21L425.32 264.73L428.62 251.64L430.12 246.12L431.62 240.93L433.11 236.13L434.61 231.77L436.11 227.88L437.61 224.49L438.81 222.17L440.31 219.76L441.50 218.24L442.40 217.35L443.00 216.87L443.60 216.49L444.20 216.20L444.80 216.01L445.70 215.90" stroke="#ff8c00" stroke-width="1.38" stroke-dasharray="4.33 1.87"/>
<path d="M265.89 215.90L266.19 215.93L266.79 216.14L267.39 216.57L268.29 217.62L269.19 219.12L270.09 221.08L270.99 223.45L271.89 226.22L272.79 229.36L274.29 235.29L276.08 243.35L278.18 253.67L284.17 284.26L286.27 294.15L288.37 303.19L289.57 307.93L290.77 312.34L291.97 316.43L293.16 320.18L294.36 323.63L295.56 326.77L296.76 329.63L298.26 332.82L299.76 335.62L301.26 338.07L302.75 340.20L304.25 342.03L305.75 343.60L307.55 345.19L309.35 346.52L311.44 347.81L313.54 348.85L315.64 349.69L318.04 350.44L320.44 351.00L323.73 351.55L326.73 351.90L330.02 352.14L333.62 352.23L337.22 352.18L340.81 352.01L343.81 351.76L347.11 351.34L350.10 350.80L352.80 350.17L355.50 349.39L358.19 348.42L360.59 347.38L362.69 346.30L364.79 345.03L366.89 343.56L368.98 341.86L370.78 340.22L372.88 338.05L374.68 335.98L376.47 333.68L377.97 331.60L379.47 329.37L381.27 326.48L382.77 323.90L384.57 320.59L386.36 317.07L388.16 313.33L391.16 306.69L394.46 298.86L398.05 289.89L406.14 269.26L408.84 262.61L411.24 256.92L413.93 250.84L416.63 245.17L419.03 240.51L421.43 236.23L422.92 233.76L424.42 231.45L425.92 229.31L427.42 227.32L428.92 225.50L430.42 223.84L431.91 222.34L433.41 221.00L434.91 219.83L436.41 218.81L437.91 217.94L439.41 217.23L440.91 216.67L442.40 216.26L444.20 215.98L445.70 215.90" stroke="#ff0000" stroke-width="1.38"/>
<path d="M265.89 215.90L266.49 215.94L267.09 216.07L268.29 216.59L269.49 217.44L270.39 218.30L270.99 218.97L272.19 220.55L273.69 222.93L274.88 225.15L276.38 228.26L278.78 233.93L281.18 240.27L283.87 247.92L291.67 270.74L294.36 278.18L296.76 284.41L299.46 290.88L302.16 296.74L304.85 301.97L307.55 306.56L309.05 308.84L310.55 310.93L312.04 312.84L313.54 314.57L315.04 316.14L316.84 317.81L318.34 319.04L320.14 320.33L321.93 321.44L323.73 322.38L325.53 323.16L327.33 323.79L329.43 324.33L331.22 324.65L333.02 324.84L334.82 324.90L336.62 324.83L338.42 324.62L340.21 324.28L342.01 323.80L343.81 323.19L345.61 322.44L347.41 321.57L349.20 320.55L351.00 319.40L352.50 318.34L354.30 316.93L356.10 315.39L357.89 313.72L359.69 311.91L361.49 309.97L363.29 307.90L365.99 304.56L368.98 300.51L371.98 296.15L374.98 291.51L377.67 287.13L380.67 282.09L390.56 264.86L394.46 258.20L398.05 252.30L401.35 247.18L404.94 241.99L408.54 237.26L411.84 233.36L415.13 229.88L416.93 228.16L418.73 226.57L420.53 225.11L422.33 223.76L424.12 222.54L425.92 221.42L427.72 220.43L429.82 219.40L431.91 218.51L433.71 217.86L435.51 217.31L437.61 216.78L439.71 216.38L441.50 216.14L443.60 215.96L445.70 215.90" stroke="#008000" stroke-width="1.2" stroke-dasharray="3.55 1.54"/>
<path d="M265.89 215.90L267.39 216.01L269.19 216.44L270.69 217.04L272.49 218.03L273.99 219.09L275.78 220.60L277.58 222.37L279.38 224.37L282.38 228.14L285.67 232.79L288.97 237.79L297.96 251.83L300.66 255.85L303.05 259.26L305.75 262.88L308.45 266.22L311.15 269.27L313.54 271.71L315.94 273.89L318.64 276.02L321.03 277.63L323.73 279.11L326.13 280.13L328.83 280.97L331.52 281.47L334.22 281.64L336.62 281.54L339.31 281.13L342.01 280.42L344.41 279.56L347.11 278.34L349.80 276.87L352.80 274.96L355.80 272.79L358.19 270.88L360.59 268.83L363.29 266.39L365.99 263.81L371.08 258.69L384.27 244.97L388.16 241.12L391.76 237.74L395.95 234.08L399.85 230.98L403.75 228.19L407.64 225.73L409.74 224.54L412.14 223.29L416.33 221.38L418.43 220.55L420.83 219.70L422.92 219.04L425.32 218.37L429.82 217.36L432.51 216.90L435.21 216.52L437.61 216.27L440.61 216.05L445.70 215.90" stroke="#00bfbf" stroke-width="1.38" stroke-dasharray="7.49 1.87 1.17 1.87"/>
</g>
<rect x="260.5" y="215.9" width="185.20" height="146.40" fill="none" stroke="#000" stroke-width="1.0"/>
<path d="M265.89 362.3v-3.4M355.80 362.3v-3.4M445.70 362.3v-3.4M310.85 362.3v-2.0M400.75 362.3v-2.0M260.5 355.33h3.4M260.5 285.61h3.4" stroke="#000" stroke-width="0.8" fill="none"/>
<text x="265.89" y="374.50" font-size="12.4" text-anchor="middle">0.0</text>
<text x="355.80" y="374.50" font-size="12.4" text-anchor="middle">0.5</text>
<text x="445.70" y="374.50" font-size="12.4" text-anchor="middle">1.0</text>
<text x="257.70" y="359.73" font-size="12.4" text-anchor="end">0</text>
<text x="257.70" y="220.30" font-size="12.4" text-anchor="end">1</text>
<text x="235.20" y="290.61" font-size="16.5" font-style="italic">p</text>
<text x="243.20" y="293.11" font-size="12.6" font-style="italic" textLength="6.0" lengthAdjust="spacingAndGlyphs">k</text>
<text x="339.70" y="393.30" font-size="16.5" font-style="italic" textLength="7.3" lengthAdjust="spacingAndGlyphs">k</text>
<text x="349.60" y="396.70" font-size="24">/</text>
<text x="356.90" y="393.30" font-size="16.5" font-style="italic" textLength="8.8" lengthAdjust="spacingAndGlyphs">π</text>
<text x="309.20" y="209.60" font-size="10.3" font-style="italic" textLength="5.6" lengthAdjust="spacingAndGlyphs">J</text>
<text x="315.00" y="211.30" font-size="7.21">3</text>
<text x="322.10" y="209.60" font-size="10.3" textLength="7.4" lengthAdjust="spacingAndGlyphs">=</text>
<text x="334.40" y="209.60" font-size="10.3">0.25,</text>
<text x="360.20" y="209.60" font-size="10.3" font-style="italic" textLength="5.8" lengthAdjust="spacingAndGlyphs">h</text>
<text x="366.20" y="211.30" font-size="7.21" font-style="italic">f</text>
<text x="374.00" y="209.60" font-size="10.3" textLength="7.4" lengthAdjust="spacingAndGlyphs">=</text>
<text x="386.50" y="209.60" font-size="10.3">10</text>
<text x="230.00" y="220.50" font-size="13.0">(</text>
<text x="234.50" y="220.50" font-size="13.0" font-weight="bold">e</text>
<text x="240.50" y="220.50" font-size="13.0">)</text>
<path d="M310.00 224.00H330.40" stroke="#0000ff" stroke-width="1.38" fill="none"/>
<text x="337.20" y="227.50" font-size="9.3" font-style="italic" textLength="4.6" lengthAdjust="spacingAndGlyphs">v</text>
<text x="345.10" y="227.50" font-size="9.3" textLength="6.9" lengthAdjust="spacingAndGlyphs">=</text>
<text x="354.70" y="227.50" font-size="9.3">0.05</text>
<path d="M310.00 237.30H330.40" stroke="#ff8c00" stroke-width="1.38" fill="none" stroke-dasharray="4.33 1.87"/>
<text x="337.20" y="240.80" font-size="9.3" font-style="italic" textLength="4.6" lengthAdjust="spacingAndGlyphs">v</text>
<text x="345.10" y="240.80" font-size="9.3" textLength="6.9" lengthAdjust="spacingAndGlyphs">=</text>
<text x="354.70" y="240.80" font-size="9.3">0.5</text>
<path d="M310.00 250.60H330.40" stroke="#ff0000" stroke-width="1.38" fill="none"/>
<text x="337.20" y="254.10" font-size="9.3" font-style="italic" textLength="4.6" lengthAdjust="spacingAndGlyphs">v</text>
<text x="345.10" y="254.10" font-size="9.3" textLength="6.9" lengthAdjust="spacingAndGlyphs">=</text>
<text x="354.70" y="254.10" font-size="9.3">2</text>
<path d="M310.00 263.80H330.40" stroke="#008000" stroke-width="1.2" fill="none" stroke-dasharray="3.55 1.54"/>
<text x="337.20" y="267.30" font-size="9.3" font-style="italic" textLength="4.6" lengthAdjust="spacingAndGlyphs">v</text>
<text x="345.10" y="267.30" font-size="9.3" textLength="6.9" lengthAdjust="spacingAndGlyphs">=</text>
<text x="354.70" y="267.30" font-size="9.3">5</text>
<path d="M310.90 294.80H330.40" stroke="#00bfbf" stroke-width="1.38" fill="none" stroke-dasharray="7.49 1.87 1.17 1.87"/>
<text x="337.20" y="298.30" font-size="9.3" font-style="italic" textLength="4.6" lengthAdjust="spacingAndGlyphs">v</text>
<text x="345.10" y="298.30" font-size="9.3" textLength="6.9" lengthAdjust="spacingAndGlyphs">=</text>
<text x="354.70" y="298.30" font-size="9.3">12</text>
<clipPath id="cpf"><rect x="493.5" y="213.7" width="192.00" height="151.70"/></clipPath>
<g clip-path="url(#cpf)" fill="none">
<path d="M493.5 343.09H684.5" stroke="#ffa500" stroke-width="1.6" stroke-dasharray="4.45 1.9"/>
<path d="M493.5 253.86H684.5" stroke="#ffa500" stroke-width="1.6" stroke-dasharray="4.45 1.9"/>
<path d="M592.43 365.40L592.50 364.84L592.68 364.28L592.99 363.72L593.42 363.16L594.64 362.04L596.48 360.80L598.80 359.57L601.57 358.34L605.05 356.99L608.94 355.65L613.60 354.19L618.66 352.73L624.52 351.16L630.78 349.59L637.41 348.02L644.91 346.34L660.45 343.09" stroke="#adadad" stroke-width="1.05" stroke-dasharray="11.5 2.9 1.8 2.9"/>
<path d="M493.50 343.09L493.53 340.74L493.64 339.09L493.87 337.45L494.24 335.81L494.78 334.16L495.39 332.75L496.14 331.35L497.05 329.94L498.31 328.29L499.56 326.88L500.99 325.48L502.58 324.07L504.35 322.66L506.29 321.25L508.41 319.84L510.71 318.43L513.63 316.79L516.32 315.38L522.27 312.56L528.97 309.74L536.42 306.92L545.35 303.87L554.39 301.05L564.19 298.24L574.76 295.42L587.09 292.37L599.27 289.55L612.23 286.73L625.97 283.91L640.49 281.09L657.10 278.04L673.24 275.22L690.16 272.41L709.38 269.35L727.94 266.54L747.28 263.72L767.40 260.90L788.31 258.08L810.00 255.26L834.39 252.21L857.72 249.39" stroke="#adadad" stroke-width="1.05" stroke-dasharray="11.5 2.9 1.8 2.9"/>
<path d="M575.20 365.40L575.41 364.65L575.97 363.68L576.54 362.92L577.42 362.17L578.92 361.20L580.46 360.34L582.36 359.48L584.76 358.51L587.19 357.65L589.91 356.79L595.76 355.18L602.69 353.56L610.84 351.95L619.06 350.55L628.68 349.15L637.27 348.07L647.37 347.00L658.07 346.03L668.07 345.27L676.98 344.74L691.86 343.98" stroke="#ff0000" stroke-width="1.4"/>
<path d="M493.78 337.96L494.27 335.70L494.63 334.57L495.08 333.44L496.28 331.18L497.81 328.92L498.78 327.79L499.86 326.65L503.06 323.64L505.67 321.57L507.97 320.06L510.43 318.74L522.04 312.90L528.18 309.89L534.60 306.87L541.43 303.86L549.24 300.65L557.17 297.64L565.20 294.81L573.85 291.98L581.92 289.54L589.90 287.27L598.44 285.01L606.79 282.94L615.71 280.87L625.26 278.80L634.54 276.91L644.47 275.03L655.13 273.14L665.45 271.45L676.51 269.75L687.09 268.24L697.04 266.92L707.79 265.61L719.31 264.29L733.34 262.78" stroke="#0000ff" stroke-width="1.4"/>
</g>
<path d="M684.5 213.2V365.9M493.5 213.7H684.5M493.5 365.4H684.5M493.5 213.2V365.9" fill="none" stroke="#000" stroke-width="1.0"/>
<path d="M493.50 365.4v-4.4M548.07 365.4v-4.4M602.64 365.4v-4.4M657.21 365.4v-4.4M520.79 365.4v-2.6M575.36 365.4v-2.6M629.93 365.4v-2.6M493.5 320.78h4.4M493.5 276.16h4.4M493.5 231.55h4.4M493.5 343.09h2.6M493.5 298.47h2.6M493.5 253.86h2.6" stroke="#000" stroke-width="0.7" fill="none"/>
<text x="490.30" y="379.00" font-size="14.0" textLength="6.4" lengthAdjust="spacingAndGlyphs">0</text>
<text x="544.87" y="379.00" font-size="14.0" textLength="6.4" lengthAdjust="spacingAndGlyphs">5</text>
<text x="596.14" y="379.00" font-size="14.0" textLength="13.0" lengthAdjust="spacingAndGlyphs">10</text>
<text x="650.71" y="379.00" font-size="14.0" textLength="13.0" lengthAdjust="spacingAndGlyphs">15</text>
<text x="483.70" y="371.10" font-size="14.0" textLength="6.4" lengthAdjust="spacingAndGlyphs">0</text>
<text x="483.70" y="325.68" font-size="14.0" textLength="6.4" lengthAdjust="spacingAndGlyphs">1</text>
<text x="483.70" y="281.06" font-size="14.0" textLength="6.4" lengthAdjust="spacingAndGlyphs">2</text>
<text x="483.70" y="236.45" font-size="14.0" textLength="6.4" lengthAdjust="spacingAndGlyphs">3</text>
<text x="463.00" y="218.30" font-size="11.5">(f)</text>
<text x="462.70" y="299.60" font-size="18.3" font-style="italic" textLength="8.6" lengthAdjust="spacingAndGlyphs">J</text>
<text x="471.40" y="302.60" font-size="12.3">3</text>
<text x="585.00" y="393.00" font-size="18" font-style="italic" textLength="8.2" lengthAdjust="spacingAndGlyphs">v</text>
<path d="M638.1 226.2H659.8" stroke="#0000ff" stroke-width="1.4"/>
<path d="M638.1 239.9H659.8" stroke="#ff0000" stroke-width="1.4"/>
<text x="667.20" y="230.20" font-size="11.8" font-style="italic" textLength="4.7" lengthAdjust="spacingAndGlyphs">v</text>
<text x="671.80" y="231.80" font-size="8.0" font-style="italic">T</text>
<text x="667.20" y="243.90" font-size="11.8" font-style="italic" textLength="4.7" lengthAdjust="spacingAndGlyphs">v</text>
<text x="671.60" y="245.30" font-size="7.8">c</text>
<text x="570.70" y="236.35" font-size="10.2" font-weight="bold" textLength="36.5" lengthAdjust="spacingAndGlyphs">TwCMs</text>
<text x="521.50" y="280.70" font-size="10.2" font-weight="bold" textLength="34.7" lengthAdjust="spacingAndGlyphs">ThCMs</text>
<text x="591.90" y="320.70" font-size="10.2" font-weight="bold" textLength="22.8" lengthAdjust="spacingAndGlyphs">SCM</text>
<text x="526.80" y="356.90" font-size="10.2" font-weight="bold" textLength="36.8" lengthAdjust="spacingAndGlyphs">TwCMs</text>
<text x="630.20" y="357.80" font-size="6.9" font-weight="bold" textLength="42.6" lengthAdjust="spacingAndGlyphs">no – DQPTs</text>
</svg></body></html>
